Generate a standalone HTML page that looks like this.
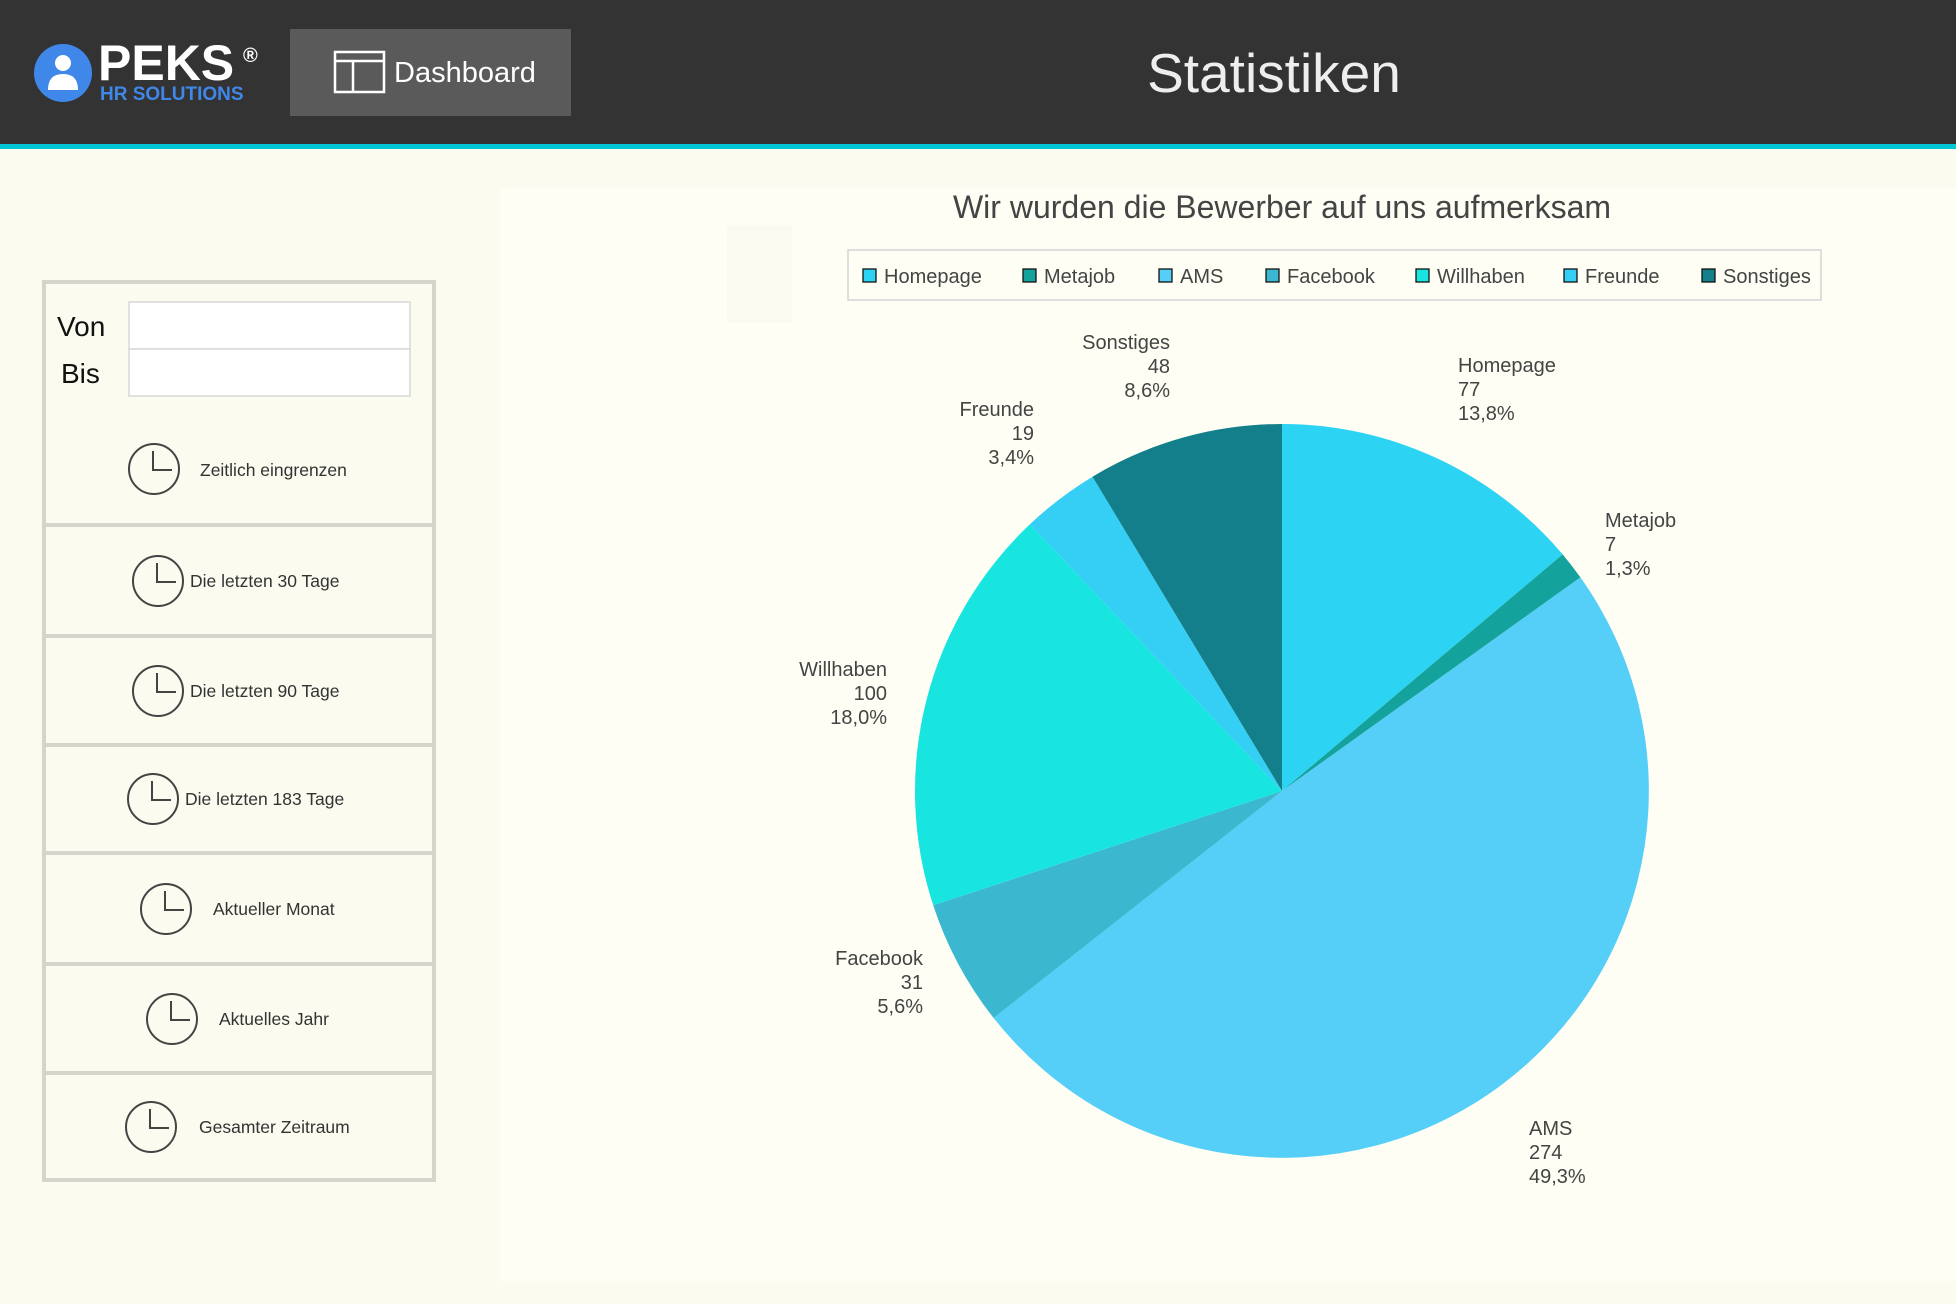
<!DOCTYPE html>
<html><head><meta charset="utf-8"><style>
html,body{margin:0;padding:0;width:1956px;height:1304px;overflow:hidden;background:#fbfbf0;font-family:"Liberation Sans",sans-serif}
svg{display:block}
</style></head><body>
<svg width="1956" height="1304" viewBox="0 0 1956 1304" xmlns="http://www.w3.org/2000/svg" font-family="Liberation Sans, sans-serif">
<rect x="0" y="0" width="1956" height="1304" fill="#fbfbf0"/>
<rect x="0" y="0" width="1956" height="144" fill="#333333"/>
<rect x="0" y="144" width="1956" height="5" fill="#00c8d8"/>
<circle cx="63" cy="73" r="29" fill="#3f87e8"/>
<circle cx="63" cy="63" r="8" fill="#fff"/>
<path d="M48 90 Q48 74 63 74 Q78 74 78 90 Z" fill="#fff"/>
<text x="98" y="80" font-size="50" font-weight="bold" fill="#fff">PEKS</text>
<text x="243" y="62" font-size="20" font-weight="bold" fill="#fff">®</text>
<text x="100" y="100" font-size="19" font-weight="bold" fill="#3f87e8">HR SOLUTIONS</text>
<rect x="290" y="29" width="281" height="87" fill="#5a5a5a"/>
<rect x="335" y="52" width="49" height="40" fill="none" stroke="#fff" stroke-width="2.5"/>
<line x1="335" y1="61" x2="384" y2="61" stroke="#fff" stroke-width="2.5"/>
<line x1="353" y1="61" x2="353" y2="92" stroke="#fff" stroke-width="2.5"/>
<text x="394" y="82" font-size="29" fill="#fff">Dashboard</text>
<text x="1274" y="92" font-size="55" fill="#eeeeee" text-anchor="middle">Statistiken</text>

<rect x="44" y="282" width="390" height="898" fill="none" stroke="#d6d5cb" stroke-width="4"/>
<g stroke="#d6d5cb" stroke-width="4">
<line x1="44" y1="525" x2="434" y2="525"/>
<line x1="44" y1="636" x2="434" y2="636"/>
<line x1="44" y1="745" x2="434" y2="745"/>
<line x1="44" y1="853" x2="434" y2="853"/>
<line x1="44" y1="964" x2="434" y2="964"/>
<line x1="44" y1="1073" x2="434" y2="1073"/>
</g>
<rect x="129" y="302" width="281" height="47" fill="#fff" stroke="#d8d8d8" stroke-width="1.5"/>
<rect x="129" y="349" width="281" height="47" fill="#fff" stroke="#d8d8d8" stroke-width="1.5"/>
<text x="57" y="336" font-size="28" fill="#111">Von</text>
<text x="61" y="383" font-size="28" fill="#111">Bis</text>
<g fill="none" stroke="#444" stroke-width="2">
<circle cx="154" cy="469" r="25"/><path d="M153 451 V470 H172"/>
<circle cx="158" cy="581" r="25"/><path d="M157 563 V582 H176"/>
<circle cx="158" cy="691" r="25"/><path d="M157 673 V692 H176"/>
<circle cx="153" cy="799" r="25"/><path d="M152 781 V800 H171"/>
<circle cx="166" cy="909" r="25"/><path d="M165 891 V910 H184"/>
<circle cx="172" cy="1019" r="25"/><path d="M171 1001 V1020 H190"/>
<circle cx="151" cy="1127" r="25"/><path d="M150 1109 V1128 H169"/>
</g>
<g font-size="17.5" fill="#333">
<text x="200" y="476">Zeitlich eingrenzen</text>
<text x="190" y="587">Die letzten 30 Tage</text>
<text x="190" y="697">Die letzten 90 Tage</text>
<text x="185" y="805">Die letzten 183 Tage</text>
<text x="213" y="915">Aktueller Monat</text>
<text x="219" y="1025">Aktuelles Jahr</text>
<text x="199" y="1133">Gesamter Zeitraum</text>
</g>

<rect x="500" y="188" width="1456" height="1093" fill="#fefef5"/>
<rect x="727" y="226" width="65" height="97" fill="#fafaf1"/>
<text x="1282" y="218" font-size="32" fill="#444" text-anchor="middle">Wir wurden die Bewerber auf uns aufmerksam</text>
<rect x="848" y="250" width="973" height="50" fill="none" stroke="#d4d4d4" stroke-width="1.5"/>
<g stroke="#111" stroke-width="1.3">
<rect x="863" y="269" width="13" height="13" fill="#2dd3f3"/>
<rect x="1023" y="269" width="13" height="13" fill="#14a29c"/>
<rect x="1159" y="269" width="13" height="13" fill="#55cff8"/>
<rect x="1266" y="269" width="13" height="13" fill="#3bb8d0"/>
<rect x="1416" y="269" width="13" height="13" fill="#18e5e0"/>
<rect x="1564" y="269" width="13" height="13" fill="#35cff5"/>
<rect x="1702" y="269" width="13" height="13" fill="#137f8a"/>
</g>
<g font-size="20" fill="#444">
<text x="884" y="283">Homepage</text>
<text x="1044" y="283">Metajob</text>
<text x="1180" y="283">AMS</text>
<text x="1287" y="283">Facebook</text>
<text x="1437" y="283">Willhaben</text>
<text x="1585" y="283">Freunde</text>
<text x="1723" y="283">Sonstiges</text>
</g>

<path d="M1282 791 L1282 424 A367 367 0 0 1 1562.6 554.4 Z" fill="#2dd3f3"/>
<path d="M1282 791 L1562.6 554.4 A367 367 0 0 1 1580.4 577.4 Z" fill="#14a29c"/>
<path d="M1282 791 L1580.4 577.4 A367 367 0 0 1 993.6 1018.0 Z" fill="#55cff8"/>
<path d="M1282 791 L993.6 1018.0 A367 367 0 0 1 933.2 905.2 Z" fill="#3bb8d0"/>
<path d="M1282 791 L933.2 905.2 A367 367 0 0 1 1029.9 524.3 Z" fill="#18e5e0"/>
<path d="M1282 791 L1029.9 524.3 A367 367 0 0 1 1092.5 476.7 Z" fill="#35cff5"/>
<path d="M1282 791 L1092.5 476.7 A367 367 0 0 1 1282 424 Z" fill="#137f8a"/>

<g font-size="20" fill="#444">
<g text-anchor="end">
<text x="1170" y="349">Sonstiges</text><text x="1170" y="373">48</text><text x="1170" y="397">8,6%</text>
<text x="1034" y="416">Freunde</text><text x="1034" y="440">19</text><text x="1034" y="464">3,4%</text>
<text x="887" y="676">Willhaben</text><text x="887" y="700">100</text><text x="887" y="724">18,0%</text>
<text x="923" y="965">Facebook</text><text x="923" y="989">31</text><text x="923" y="1013">5,6%</text>
</g>
<text x="1458" y="372">Homepage</text><text x="1458" y="396">77</text><text x="1458" y="420">13,8%</text>
<text x="1605" y="527">Metajob</text><text x="1605" y="551">7</text><text x="1605" y="575">1,3%</text>
<text x="1529" y="1135">AMS</text><text x="1529" y="1159">274</text><text x="1529" y="1183">49,3%</text>
</g>
</svg>
</body></html>
